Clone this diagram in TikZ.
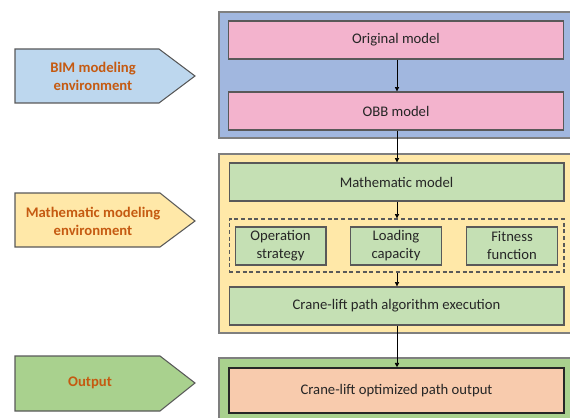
\documentclass[tikz,border=0pt]{standalone}
\usepackage{fontspec}
\setmainfont{Carlito}
\usetikzlibrary{arrows.meta}
\definecolor{panelblue}{HTML}{A1B7DF}
\definecolor{panelyellow}{HTML}{FFE8A8}
\definecolor{panelgreen}{HTML}{A9D18E}
\definecolor{boxpink}{HTML}{F3B3CD}
\definecolor{boxgreen}{HTML}{C5E0B4}
\definecolor{boxpeach}{HTML}{F8CBAD}
\definecolor{tagblue}{HTML}{BDD7EE}
\definecolor{tagtext}{HTML}{C55A11}
\definecolor{edgegrey}{HTML}{595959}
\definecolor{panelgrey}{HTML}{7F7F7F}
\tikzset{
  panel/.style={draw=panelgrey, line width=0.8pt},
  box/.style={draw=edgegrey, line width=1pt, inner sep=0pt, align=center,
    font=\fontsize{11}{13.5}\selectfont, text=black!85,
    minimum height=28.5pt},
  widebox/.style={box, minimum width=251pt},
  smallbox/.style={box, minimum width=68pt},
  tag/.style={draw=edgegrey, line width=0.8pt},
  tagtxt/.style={align=center, text=tagtext, font=\bfseries\fontsize{11}{13.5}\selectfont},
  flow/.style={-{Triangle[width=3.2pt,length=3.2pt]}, line width=0.5pt, black}
}
\begin{document}
\begin{tikzpicture}[x=0.75pt, y=-0.75pt]
\useasboundingbox (0,0) rectangle (570,417);
\begin{scope}
\clip (0,0) rectangle (570,417);
% background panels
\draw[panel, fill=panelblue] (219,12) rectangle (580,138);
\draw[panel, fill=panelyellow] (219,154) rectangle (580,333);
\draw[panel, fill=panelgreen] (219,358) rectangle (580,430);

% left-hand stage tags
\draw[tag, fill=tagblue] (15,49) -- (159,49) -- (195,76) -- (159,103) -- (15,103) -- cycle;
\node[tagtxt] (tagbim) at (93,76) {BIM modeling\\environment};
\draw[tag, fill=panelyellow] (15,193) -- (160,193) -- (195,221) -- (160,247) -- (15,247) -- cycle;
\node[tagtxt] (tagmath) at (93,221) {Mathematic modeling\\environment};
\draw[tag, fill=panelgreen] (15,356) -- (160,356) -- (195,383) -- (160,411) -- (15,411) -- cycle;
\node[tagtxt] (tagout) at (90,383) {Output};

% process boxes
\node[widebox, fill=boxpink] (orig) at (396,40) {Original model};
\node[widebox, fill=boxpink] (obb) at (396,111) {OBB model};
\node[widebox, fill=boxgreen] (math) at (396.5,182) {Mathematic model};
\node[draw=edgegrey, line width=1pt, dash pattern=on 3pt off 2pt,
  inner sep=0pt, minimum width=251pt, minimum height=39.75pt] (group) at (396.5,245.5) {};
\node[smallbox, fill=boxgreen] (oper) at (280.5,246) {Operation\\strategy};
\node[smallbox, fill=boxgreen] (load) at (396,246) {Loading\\capacity};
\node[smallbox, fill=boxgreen] (fitf) at (512,246) {Fitness\\function};
\node[widebox, fill=boxgreen] (exec) at (396.5,306) {Crane-lift path algorithm execution};
\node[widebox, fill=boxpeach, draw=black!85, line width=1.2pt,
  minimum height=33.75pt] (out) at (396.5,390.5) {Crane-lift optimized path output};

% flow connectors
\coordinate (c1) at (397,0);
\draw[flow] (orig.south -| c1) -- (obb.north -| c1);
\draw[flow] (obb.south -| c1) -- (math.north -| c1);
\draw[flow] (math.south -| c1) -- (group.north -| c1);
\draw[flow] (group.south -| c1) -- (exec.north -| c1);
\draw[flow] (exec.south -| c1) -- (out.north -| c1);
\end{scope}
\end{tikzpicture}
\end{document}
